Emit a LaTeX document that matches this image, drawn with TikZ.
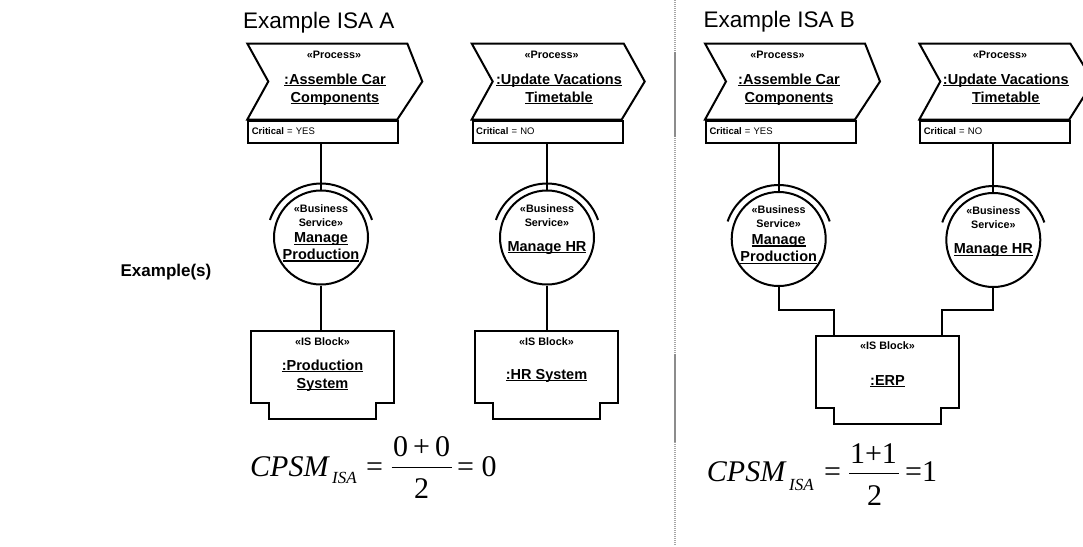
\documentclass[tikz,border=0pt]{standalone}
\usepackage{fontspec}
\setmainfont{Liberation Sans}
\newfontfamily\tnr{Liberation Serif}
\usetikzlibrary{calc}
\newcommand\udl[1]{\setbox0\hbox{#1}\rlap{\rule[-2.3pt]{\wd0}{1.2pt}}\box0}
\newcommand\chev[3]{\draw[shp] (#1,43.5) -- ({#1+#2},43.5) -- ({#1+#3},81.5) -- ({#1+150},119.5) -- (#1,119.5) -- ({#1+21},81.5) -- cycle;}
\newcommand\isblk[3]{%
  \node[blk] (#1) at (#2,{#3+36}) {};
  \draw[shp] (#1.north west) -- (#1.north east) -- (#1.south east) -- ++(-18,0) -- ++(0,15.5)
    -- ($(#1.south west)+(18,15.5)$) -- ++(0,-15.5) -- (#1.south west) -- cycle;}
\newcommand\svcarc[1]{\draw[shp] ($(#1.center)+(-19:54)$) arc[start angle=-19, end angle=-161, radius=54];}
\tikzset{
  shp/.style={draw=black, line width=2pt},
  conn/.style={draw=black, line width=2pt},
  ster/.style={font=\fontsize{10.8}{12}\selectfont\bfseries, inner sep=0pt, anchor=base},
  nm/.style={font=\fontsize{14.5}{17}\selectfont\bfseries, inner sep=0pt, anchor=base},
  crit/.style={shp, anchor=north west, minimum height=22pt, text width=143pt, inner xsep=3.5pt, inner ysep=0pt, align=left, font=\fontsize{9.5}{11}\selectfont},
  svc/.style={shp, circle, minimum size=94pt, inner sep=0pt},
  blk/.style={minimum width=143pt, minimum height=72pt, inner sep=0pt},
  ttl/.style={font=\fontsize{22.5}{26}\selectfont, inner sep=0pt, anchor=base west},
  fml/.style={font=\tnr\fontsize{30}{34}\selectfont, inner sep=0pt},
  fsub/.style={font=\tnr\fontsize{17}{19}\selectfont\itshape, inner sep=0pt, anchor=base west},
  fbar/.style={draw=black, line width=1.3pt},
}
\begin{document}
\begin{tikzpicture}[x=1pt,y=-1pt]
\useasboundingbox (0,0) rectangle (1083,546);
\clip (0,0) rectangle (1083,546);
\fill[white] (0,0) rectangle (1083,546);

% divider
\draw[black!35, line width=1.4pt, dash pattern=on 1pt off 1pt] (675,0) -- (675,546);
\draw[black!45, line width=1.8pt] (675,52) -- (675,137);
\draw[black!45, line width=1.8pt] (675,354) -- (675,442);

% labels
\node[font=\fontsize{17}{20}\selectfont\bfseries, inner sep=0pt] (exlbl) at (166,272) {Example(s)};
\node[ttl] (ttlA) at (243,28.3) {Example ISA A};
\node[ttl] (ttlB) at (703.3,27.3) {Example ISA B};

% ---------- ISA A ----------
\chev{247.3}{160}{175}
\node[ster] (pA1s) at (334,58.8) {«Process»};
\node[nm] (pA1a) at (335,84) {\udl{:Assemble Car}};
\node[nm] (pA1b) at (335,102) {\udl{Components}};
\node[crit] (critA1) at (247.3,119.5) {\textbf{Critical} = YES};

\chev{471.7}{152}{173}
\node[ster] (pA2s) at (551.7,58.8) {«Process»};
\node[nm] (pA2a) at (559,84) {\udl{:Update Vacations}};
\node[nm] (pA2b) at (559,102) {\udl{Timetable}};
\node[crit] (critA2) at (471.7,119.5) {\textbf{Critical} = NO};

\node[svc] (svcA1) at (321,237.5) {};
\svcarc{svcA1}
\node[ster] (sA1a) at (321,212.8) {«Business};
\node[ster] (sA1b) at (321,226.4) {Service»};
\node[nm] (sA1c) at (321,242.5) {\udl{Manage}};
\node[nm] (sA1d) at (321,259.2) {\udl{Production}};

\node[svc] (svcA2) at (547,237.5) {};
\svcarc{svcA2}
\node[ster] (sA2a) at (547,212.8) {«Business};
\node[ster] (sA2b) at (547,226.4) {Service»};
\node[nm] (sA2c) at (547,251) {\udl{Manage HR}};

\isblk{blkA1}{322.5}{331}
\node[ster] (bA1a) at (322.5,345.5) {«IS Block»};
\node[nm] (bA1b) at (322.5,370) {\udl{:Production}};
\node[nm] (bA1c) at (322.5,388) {\udl{System}};

\isblk{blkA2}{546.5}{331}
\node[ster] (bA2a) at (546.5,345.5) {«IS Block»};
\node[nm] (bA2b) at (546.5,379) {\udl{:HR System}};

\draw[conn] (svcA1.north |- critA1.south) -- (svcA1.north);
\draw[conn] (svcA1.south) -- (svcA1.south |- blkA1.north);
\draw[conn] (svcA2.north |- critA2.south) -- (svcA2.north);
\draw[conn] (svcA2.south) -- (svcA2.south |- blkA2.north);

% formula A
\node[fml, anchor=base west, font=\tnr\fontsize{30}{34}\selectfont\itshape] (fA1) at (250,476.7) {CPSM};
\node[fsub] (fA2) at (332,483.5) {ISA};
\node[fml, anchor=base west] (fA3) at (366,476.7) {=};
\node[fml, anchor=base] (fA4) at (421.7,456.7) {0\,+\,0};
\node[fml, anchor=base] (fA5) at (421.7,498.3) {2};
\node[fml, anchor=base west] (fA6) at (457,476.7) {= 0};
\draw[fbar] (391.7,467.7) -- (451.7,467.7);

% ---------- ISA B ----------
\chev{705}{160}{175}
\node[ster] (pB1s) at (777.5,58.8) {«Process»};
\node[nm] (pB1a) at (789,84) {\udl{:Assemble Car}};
\node[nm] (pB1b) at (789,102) {\udl{Components}};
\node[crit] (critB1) at (705,119.5) {\textbf{Critical} = YES};

\chev{919.3}{151}{174}
\node[ster] (pB2s) at (1000,58.8) {«Process»};
\node[nm] (pB2a) at (1005.8,84) {\udl{:Update Vacations}};
\node[nm] (pB2b) at (1005.8,102) {\udl{Timetable}};
\node[crit] (critB2) at (919.3,119.5) {\textbf{Critical} = NO};

\node[svc] (svcB1) at (778.7,239) {};
\svcarc{svcB1}
\node[ster] (sB1a) at (778.7,213.7) {«Business};
\node[ster] (sB1b) at (778.7,227) {Service»};
\node[nm] (sB1c) at (778.7,244.2) {\udl{Manage}};
\node[nm] (sB1d) at (778.7,261.9) {\udl{Production}};

\node[svc] (svcB2) at (993.3,240) {};
\svcarc{svcB2}
\node[ster] (sB2a) at (993.3,214.7) {«Business};
\node[ster] (sB2b) at (993.3,228) {Service»};
\node[nm] (sB2c) at (993.3,253.5) {\udl{Manage HR}};

\isblk{blkB}{887.5}{336}
\node[ster] (bBa) at (887.5,349.8) {«IS Block»};
\node[nm] (bBb) at (887.5,385) {\udl{:ERP}};

\coordinate (jB1) at (834,310);
\coordinate (jB2) at (941.5,310);
\draw[conn] (svcB1.north |- critB1.south) -- (svcB1.north);
\draw[conn] (svcB2.north |- critB2.south) -- (svcB2.north);
\draw[conn, line join=miter] (svcB1.south) |- (jB1) -- (jB1 |- blkB.north);
\draw[conn, line join=miter] (svcB2.south) |- (jB2) -- (jB2 |- blkB.north);

% formula B
\node[fml, anchor=base west, font=\tnr\fontsize{30}{34}\selectfont\itshape] (fB1) at (706.7,481.7) {CPSM};
\node[fsub] (fB2) at (789,490) {ISA};
\node[fml, anchor=base west] (fB3) at (824,481.7) {=};
\node[fml, anchor=base] (fB4) at (873.5,463) {1+1};
\node[fml, anchor=base] (fB5) at (874.5,505) {2};
\node[fml, anchor=base west] (fB6) at (905,481.7) {=1};
\draw[fbar] (849,473.3) -- (899,473.3);
\end{tikzpicture}
\end{document}
